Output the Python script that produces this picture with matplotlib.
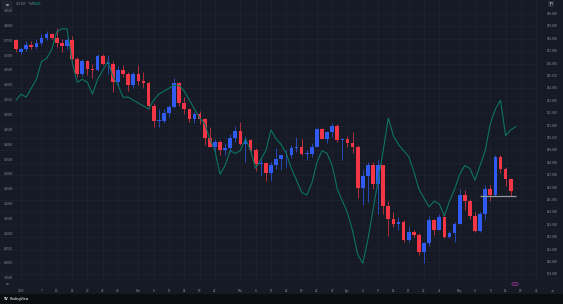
import matplotlib
matplotlib.use("Agg")
import matplotlib.pyplot as plt
import matplotlib.transforms as mtransforms
from matplotlib.patches import Rectangle, Circle

# ---------------- data ----------------
# USDJPY daily candles (right scale), index 0 = 31 Dec 2024
opens = [157.9,156.9,157.2,157.5,157.3,157.7,158.1,158.4,158.1,157.7,157.4,157.9,156.4,155.2,156.2,155.6,
         155.5,156.6,156.0,156.0,154.5,155.5,155.2,154.3,155.2,154.6,154.4,152.6,151.4,151.4,152.0,152.5,
         154.4,152.8,152.3,151.5,151.9,151.5,150.0,149.3,149.7,149.0,149.2,150.0,150.6,149.5,149.8,149.0,
         147.9,148.0,147.2,147.8,148.3,148.6,148.6,149.2,149.3,148.7,148.7,149.3,150.7,149.9,150.5,151.0,
         149.8,149.9,149.6,149.3,146.0,146.9,147.8,146.3,147.8,144.5,143.5,143.1,143.2,141.8,142.4,142.2,
         140.8,141.5,143.4,142.6,143.6,142.0,142.3,143.1,145.4,144.9,143.7,142.5,143.9,145.9,145.4,148.5,
         147.5,146.7]
highs = [158.0,157.3,157.8,157.8,158.0,158.4,158.6,158.5,158.9,158.0,158.1,158.2,156.5,156.4,156.3,156.0,
         156.8,156.8,156.7,156.2,155.8,155.9,155.3,155.3,155.9,155.3,154.6,152.8,152.3,152.3,152.7,154.8,
         154.5,153.3,152.3,152.1,152.2,151.6,150.9,149.9,149.8,149.6,150.3,151.0,151.3,150.2,149.9,149.2,
         148.4,148.1,148.1,149.2,148.6,149.0,149.4,150.1,149.9,149.0,149.6,150.8,150.8,150.6,151.2,151.1,
         150.0,150.2,150.5,149.4,147.4,148.1,148.1,148.3,147.8,144.9,144.0,143.6,143.4,142.9,142.6,142.3,
         141.6,143.7,143.5,143.9,143.7,142.5,143.2,145.9,145.8,145.1,144.0,144.0,146.2,146.2,148.6,148.6,
         147.7,146.8]
lows = [156.9,156.8,157.0,157.2,157.2,157.5,157.9,158.0,157.3,156.9,157.2,155.9,154.9,155.0,155.1,154.8,
        155.4,155.9,155.2,153.7,154.2,154.9,153.8,154.0,154.3,154.0,152.3,150.9,150.9,151.2,151.7,152.4,
        152.6,151.9,151.3,151.2,151.1,149.4,149.3,148.9,148.6,148.6,148.9,149.7,149.4,148.1,148.9,147.3,
        146.9,146.5,146.5,147.5,147.4,147.7,148.4,148.9,148.6,148.2,148.5,149.3,149.9,149.6,150.1,149.7,
        148.2,149.3,148.8,145.2,144.6,144.8,145.9,143.9,143.9,142.1,142.8,142.6,141.6,141.6,142.0,140.6,
        139.9,141.3,142.2,142.6,141.9,141.9,141.6,143.1,144.2,143.5,142.4,142.4,143.4,144.9,145.3,147.2,
        146.1,145.3]
closes = [157.2,157.2,157.5,157.3,157.7,158.1,158.4,158.1,157.7,157.4,157.9,156.4,155.2,156.2,155.6,155.5,
          156.6,156.0,156.0,154.5,155.5,155.2,154.3,155.2,154.6,154.4,152.6,151.4,151.4,152.0,152.5,154.4,
          152.8,152.3,151.5,151.9,151.5,150.0,149.3,149.7,149.0,149.2,150.0,150.6,149.5,149.8,149.0,147.9,
          148.0,147.2,147.8,148.3,148.6,148.6,149.2,149.3,148.7,148.7,149.3,150.7,149.9,150.5,151.0,149.8,
          149.9,149.6,149.3,146.0,146.9,147.8,146.3,147.8,144.5,143.5,143.1,143.2,141.8,142.4,142.2,140.8,
          141.5,143.4,142.6,143.6,142.0,142.3,143.1,145.4,144.9,143.7,142.5,143.9,145.9,145.4,148.5,147.5,
          146.7,145.7]

# US10Y compare line (left scale)
us10y = [4.55,4.57,4.56,4.59,4.62,4.68,4.69,4.72,4.78,4.79,4.79,4.68,4.61,4.62,4.61,4.57,
         4.62,4.65,4.68,4.63,4.60,4.56,4.56,4.55,4.54,4.53,4.52,4.55,4.57,4.58,4.59,4.60,
         4.60,4.58,4.55,4.52,4.49,4.47,4.42,4.38,4.30,4.33,4.38,4.37,4.38,4.42,4.38,4.32,
         4.35,4.38,4.45,4.42,4.40,4.37,4.32,4.28,4.24,4.23,4.27,4.34,4.38,4.37,4.33,4.25,
         4.21,4.17,4.11,4.03,4.00,4.08,4.18,4.28,4.38,4.49,4.43,4.40,4.38,4.36,4.31,4.25,
         4.22,4.19,4.21,4.20,4.16,4.21,4.25,4.30,4.33,4.32,4.28,4.33,4.38,4.47,4.52,4.55,
         4.43,4.45,4.46]

right_ticks = list(range(139, 161))
left_ticks = [3.95,4.00,4.05,4.10,4.15,4.20,4.25,4.30,4.35,4.40,4.45,4.50,4.55,4.60,4.65,4.70,4.75,4.80,4.85]

x_tick_idx = [1,5,8,11,14,17,20,24,27,30,33,36,39,44,47,50,53,56,59,62,65,68,71,74,77,80,83,87,90,93,96,99,102]
x_tick_lab = ["2025","7","10","15","20","23","28","Feb","6","11","14","19","24","Mar","6","11","14","19","24","27",
              "Apr","4","9","14","17","22","25","May","6","9","14","19","22"]

title_sym = "US10Y · TVC"
title_val = "4.445"
level_price = 145.3
level_start, level_end = 91, 98

# ---------------- style ----------------
W, H = 563, 304
BG = "#161a25"
GRID = "#1d2130"
UP = "#2f5bf0"
DOWN = "#f23645"
LINE = "#0c7464"
TXT = "#8b8f9b"

fig = plt.figure(figsize=(W / 100, H / 100), dpi=100, facecolor="#0c0d10")
ax = fig.add_axes([0, 10 / H, 1, 294 / H])
ax.set_facecolor(BG)
for s in ax.spines.values():
    s.set_visible(False)
ax.set_xticks([])
ax.set_yticks([])

x0_px, step_px = 16.0, 5.1
ax.set_xlim(-x0_px / step_px, (W - x0_px) / step_px)
ax.set_ylim(160 - (294 - 14) / 12.4, 160 + 14 / 12.4)

ax2 = ax.twinx()
ax2.set_ylim(4.85 - (294 - 11) / 297.0, 4.85 + 11 / 297.0)
for s in ax2.spines.values():
    s.set_visible(False)
ax2.set_yticks([])

plot_right = 538 / W
# grid
for p in right_ticks:
    ax.axhline(p, xmin=0, xmax=plot_right, color=GRID, lw=0.6, zorder=0)
for i in x_tick_idx:
    ax.axvline(i, ymin=12 / 294, ymax=1, color=GRID, lw=0.6, zorder=0)

# compare line
ax2.plot(range(len(us10y)), us10y, color=LINE, lw=0.8, zorder=2, solid_joinstyle="miter")

# candles
bw = 0.72
for i, (o, h, l, c) in enumerate(zip(opens, highs, lows, closes)):
    col = UP if c >= o else DOWN
    ax.vlines(i, l, h, color=col, lw=0.5, zorder=3)
    bot, top = min(o, c), max(o, c)
    ax.add_patch(Rectangle((i - bw / 2, bot), bw, max(top - bot, 0.06), facecolor=col,
                           edgecolor="none", zorder=4))

# horizontal level
ax.hlines(level_price, level_start, level_end, color="#9598a1", lw=0.9, zorder=5)

# axis labels
tr_r = mtransforms.blended_transform_factory(ax.transAxes, ax.transData)
for p in right_ticks:
    ax.text(547 / W, p, f"{p:.3f}", transform=tr_r, fontsize=2.0, color=TXT, va="center", ha="left")
tr_l = mtransforms.blended_transform_factory(ax2.transAxes, ax2.transData)
for v in left_ticks:
    ax2.text(4 / W, v, f"{v:.4f}", transform=tr_l, fontsize=2.0, color=TXT, va="center", ha="left")
tr_x = mtransforms.blended_transform_factory(ax.transData, ax.transAxes)
for i, lab in zip(x_tick_idx, x_tick_lab):
    ax.text(i, 3 / 294, lab, transform=tr_x, fontsize=2.0, color=TXT, va="center", ha="center")

# header
fig.text(16 / W, 1 - 4 / H, title_sym, fontsize=2.2, color=TXT, va="center", ha="left")
fig.text(33 / W, 1 - 4 / H, title_val, fontsize=2.2, color="#14a38b", va="center", ha="left")
fig.patches.append(Rectangle((2 / W, 1 - 9 / H), 10 / W, 8 / H, transform=fig.transFigure,
                             facecolor="#202431", edgecolor="#2a2e39", lw=0.3))
fig.text(7 / W, 1 - 5 / H, "⊞", fontsize=2.5, color="#c0c3cc", va="center", ha="center")
fig.text(551 / W, 1 - 4 / H, "JPY", fontsize=2.0, color="#c0c3cc", va="center", ha="center",
         bbox=dict(boxstyle="square,pad=0.3", fc="#2a2e39", ec="none"))

# icons
fig.patches.append(Circle((515 / W, 1 - 284 / H), 3.2 / W, transform=fig.transFigure,
                          facecolor="#3a1f3d", edgecolor="#a23aa8", lw=0.4))
fig.text(7 / W, 1 - 284 / H, "⊙", fontsize=2.5, color=TXT, va="center", ha="center")
fig.text(552 / W, 1 - 291 / H, "⚙", fontsize=2.5, color=TXT, va="center", ha="center")

# footer
fig.text(3 / W, 1 - 299 / H, "TV", fontsize=2.3, color="white", va="center", ha="left", weight="bold")
fig.text(10 / W, 1 - 299 / H, "TradingView", fontsize=2.3, color="white", va="center", ha="left")

fig.savefig("out.png", dpi=100, facecolor=fig.get_facecolor())
